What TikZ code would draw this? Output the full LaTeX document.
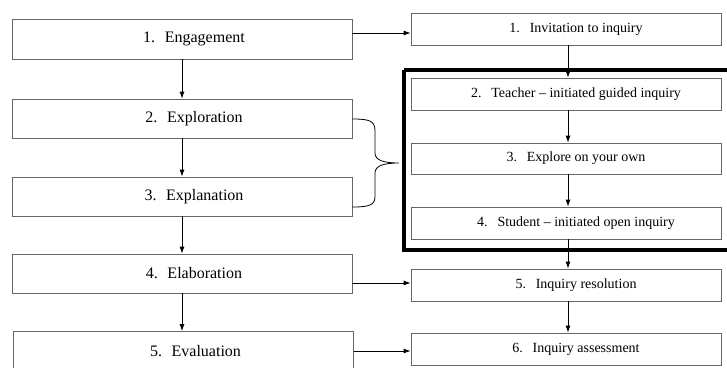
\documentclass[tikz,border=0pt]{standalone}
\usepackage{fontspec}
\setmainfont{Liberation Serif}
\usetikzlibrary{arrows.meta}
\begin{document}
\begin{tikzpicture}[x=1pt,y=-1pt,
  lbox/.style={draw=black!60, line width=0.8pt, inner sep=0pt, minimum width=340pt, minimum height=39pt, font=\fontsize{16}{18}\selectfont},
  rbox/.style={draw=black!60, line width=0.8pt, inner sep=0pt, minimum width=310pt, minimum height=32pt, font=\fontsize{14}{16}\selectfont},
  arr/.style={line width=0.8pt, -{Latex[length=7pt,width=5pt]}},
  thick frame/.style={line width=4pt}]
\clip (0,0) rectangle (727,367);
\useasboundingbox (0,0) rectangle (727,367);
\fill[white] (0,0) rectangle (727,367);
% left column
\node[lbox, minimum height=40pt] (L1) at (182,39) {\hspace*{24pt}1.\hspace{0.6em}Engagement};
\node[lbox] (L2) at (182,118.5) {\hspace*{24pt}2.\hspace{0.6em}Exploration};
\node[lbox] (L3) at (182,196.5) {\hspace*{24pt}3.\hspace{0.6em}Explanation};
\node[lbox] (L4) at (182,273.5) {\hspace*{24pt}4.\hspace{0.6em}Elaboration};
\node[lbox] (L5) at (183.5,351) {\hspace*{24pt}5.\hspace{0.6em}Evaluation};
% right column
\node[rbox] (R1) at (566,29) {\hspace*{20pt}1.\hspace{0.7em}Invitation to inquiry};
\node[rbox] (R2) at (566,94) {\hspace*{20pt}2.\hspace{0.7em}Teacher -- initiated guided inquiry};
\node[rbox, minimum height=31pt] (R3) at (566,158.5) {\hspace*{20pt}3.\hspace{0.7em}Explore on your own};
\node[rbox] (R4) at (566,223) {\hspace*{20pt}4.\hspace{0.7em}Student -- initiated open inquiry};
\node[rbox] (R5) at (566,285) {\hspace*{20pt}5.\hspace{0.7em}Inquiry resolution};
\node[rbox] (R6) at (566,349) {\hspace*{20pt}6.\hspace{0.7em}Inquiry assessment};
% thick frame
\draw[thick frame] (404,70) -- (745,70) (404,70) -- (404,249.5) -- (745,249.5);
% vertical arrows left
\draw[arr] (L1.south) -- (L2.north);
\draw[arr] (L2.south) -- (L3.north);
\draw[arr] (L3.south) -- (L4.north);
\draw[arr] (L4.south) -- (L4.south |- L5.north);
% vertical arrows right
\draw[arr] ([xshift=2pt]R1.south) -- ([xshift=2pt]R2.north);
\draw[arr] ([xshift=2pt]R2.south) -- ([xshift=2pt]R3.north);
\draw[arr] ([xshift=2pt]R3.south) -- ([xshift=2pt]R4.north);
\draw[arr] ([xshift=2pt]R4.south) -- ([xshift=2pt]R5.north);
\draw[arr] ([xshift=2pt]R5.south) -- ([xshift=2pt]R6.north);
% horizontal arrows
\draw[arr] (L1.east |- 0,33) -- (R1.west |- 0,33);
\draw[arr] (L4.east |- 0,283) -- (R5.west |- 0,283);
\draw[arr] (L5.east |- 0,351) -- (R6.west |- 0,351);
% brace
\coordinate (btop) at (L2.east |- 0,119);
\coordinate (bbot) at (L3.east |- 0,207);
\coordinate (btip) at (399,163);
\draw[line width=0.8pt] (btop) .. controls (370,119) and (375,121) .. (375,131)
  -- (375,153) .. controls (375,160) and (383,163) .. (btip)
  .. controls (383,163) and (375,166) .. (375,173)
  -- (375,196) .. controls (375,205) and (370,207) .. (bbot);
\end{tikzpicture}
\end{document}
